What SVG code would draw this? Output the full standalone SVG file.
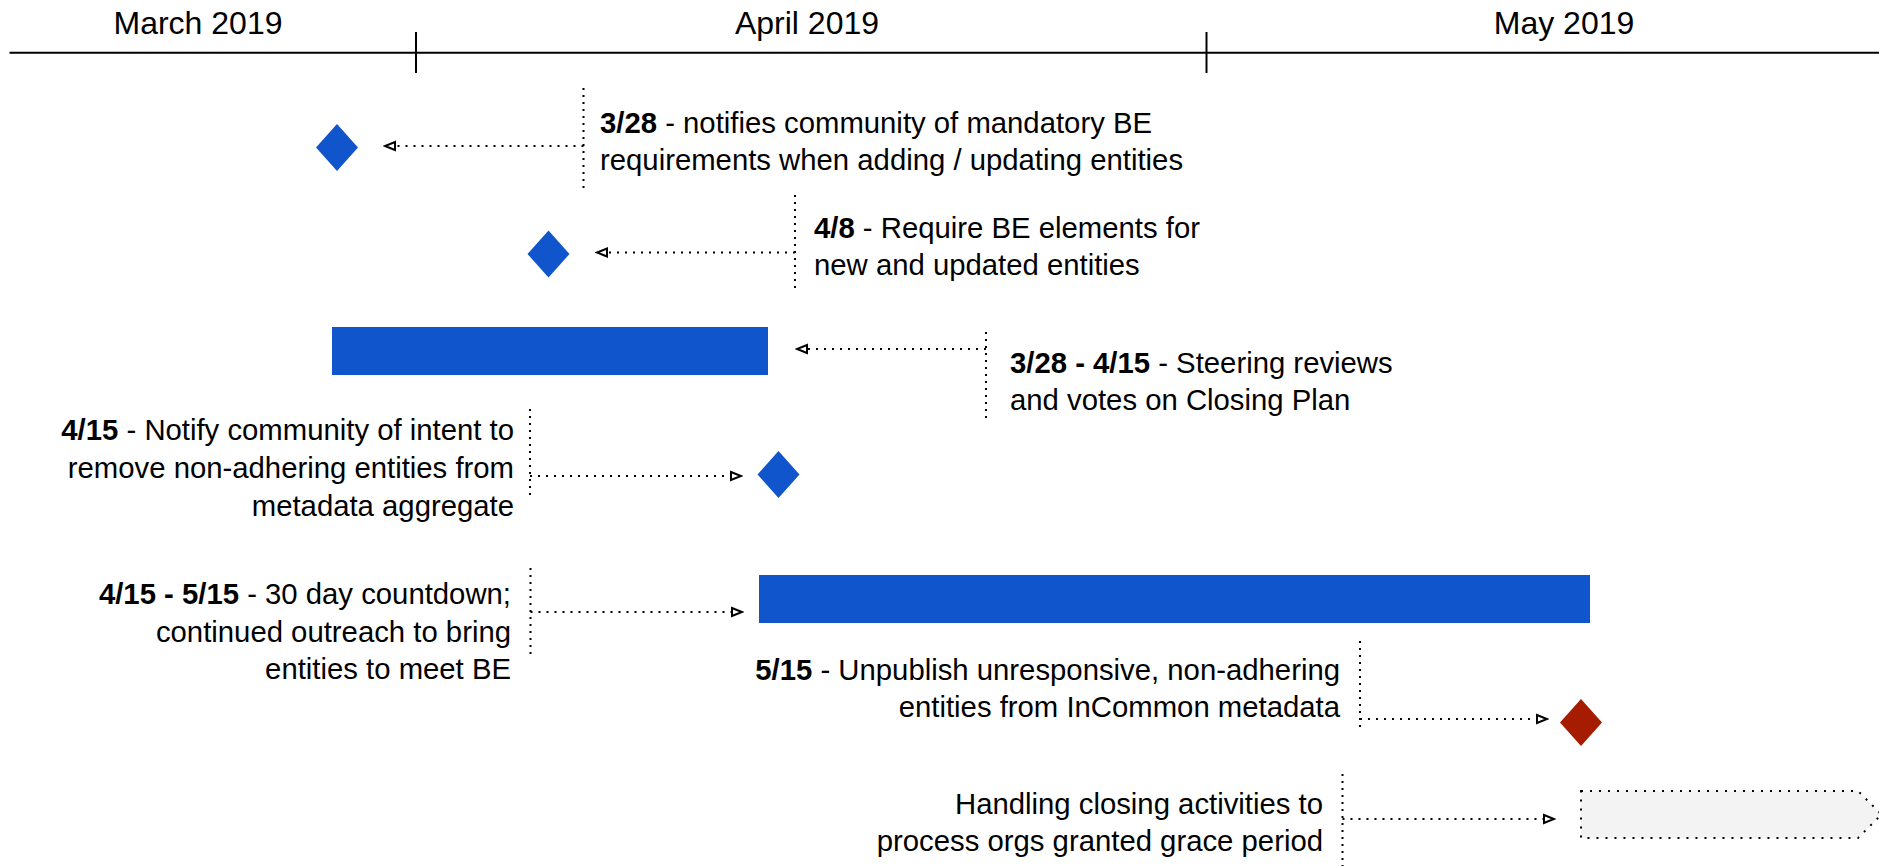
<svg xmlns="http://www.w3.org/2000/svg" width="1879" height="866" viewBox="0 0 1879 866">
<style>
text{font-family:"Liberation Sans",Arial,sans-serif;font-size:29.3px;fill:#000}
.h{font-size:32px}
.b{font-weight:bold}
.end{text-anchor:end}
.mid{text-anchor:middle}
.axis{stroke:#000;stroke-width:2;fill:none}
.blue{fill:#1155CC}
.red{fill:#A61C00}
.stem{stroke:#000;stroke-width:2;stroke-dasharray:2 5;fill:none}
.arr{stroke:#000;stroke-width:2;stroke-dasharray:2 6;fill:none;marker-end:url(#open)}
.grey{fill:#F3F3F3;stroke:#000;stroke-width:2;stroke-dasharray:2 7}
</style>
<defs>
<marker id="open" markerUnits="userSpaceOnUse" markerWidth="14" markerHeight="12" refX="12" refY="6" orient="auto">
<path d="M2,2 L12,6 L2,10 Z" fill="#fff" stroke="#000" stroke-width="2" stroke-dasharray="none"/>
</marker>
</defs>
<g id="timeline">
<line class="axis" x1="9.5" y1="52.7" x2="1879" y2="52.7"/>
<line class="axis" x1="416" y1="32" x2="416" y2="73"/>
<line class="axis" x1="1206.5" y1="32" x2="1206.5" y2="73"/>
<text class="mid h" x="198" y="34">March 2019</text>
<text class="mid h" x="807" y="34">April 2019</text>
<text class="mid h" x="1564" y="34">May 2019</text>
</g>
<g id="m1"><polygon class="blue" points="337,124 358,147.5 337,171 316,147.5"/></g>
<g id="m2"><polygon class="blue" points="548.5,230.5 569.5,254 548.5,277.5 527.5,254"/></g>
<g id="bar1"><rect class="blue" x="332" y="327" width="436" height="48"/></g>
<g id="m4"><polygon class="blue" points="778.5,451 799.5,474.5 778.5,498 757.5,474.5"/></g>
<g id="bar2"><rect class="blue" x="759" y="575" width="831" height="48"/></g>
<g id="m5"><polygon class="red" points="1581,699 1602,722.5 1581,746 1560,722.5"/></g>
<g id="grace"><path class="grey" d="M1581,791 L1858,791 L1881.5,814.5 L1858,838 L1581,838 Z"/></g>
<g id="t1"><text x="600" y="132.5"><tspan class="b">3/28</tspan> - notifies community of mandatory BE</text><text x="600" y="169.5">requirements when adding / updating entities</text></g>
<g id="t2"><text x="814" y="238"><tspan class="b">4/8</tspan> - Require BE elements for</text><text x="814" y="274.5">new and updated entities</text></g>
<g id="t3"><text x="1010" y="373"><tspan class="b">3/28 - 4/15</tspan> - Steering reviews</text><text x="1010" y="410">and votes on Closing Plan</text></g>
<g id="t4"><text class="end" x="514" y="440"><tspan class="b">4/15</tspan> - Notify community of intent to</text><text class="end" x="514" y="478">remove non-adhering entities from</text><text class="end" x="514" y="516">metadata aggregate</text></g>
<g id="t5"><text class="end" x="511" y="604"><tspan class="b">4/15 - 5/15</tspan> - 30 day countdown;</text><text class="end" x="511" y="641.5">continued outreach to bring</text><text class="end" x="511" y="679">entities to meet BE</text></g>
<g id="t6"><text class="end" x="1340" y="680"><tspan class="b">5/15</tspan> - Unpublish unresponsive, non-adhering</text><text class="end" x="1340" y="717">entities from InCommon metadata</text></g>
<g id="t7"><text class="end" x="1323" y="814">Handling closing activities to</text><text class="end" x="1323" y="851">process orgs granted grace period</text></g>
<g id="connectors">
<line class="stem" x1="583.5" y1="88" x2="583.5" y2="188"/>
<line class="arr" x1="583.5" y1="146" x2="385" y2="146"/>
<line class="stem" x1="795" y1="195" x2="795" y2="293"/>
<line class="arr" x1="795" y1="252.5" x2="597" y2="252.5"/>
<line class="stem" x1="986" y1="332" x2="986" y2="422"/>
<line class="arr" x1="986" y1="349" x2="797" y2="349"/>
<line class="stem" x1="530" y1="409" x2="530" y2="500"/>
<line class="arr" x1="530" y1="476" x2="741" y2="476"/>
<line class="stem" x1="530.5" y1="568" x2="530.5" y2="657"/>
<line class="arr" x1="530.5" y1="612" x2="742" y2="612"/>
<line class="stem" x1="1360" y1="641" x2="1360" y2="731"/>
<line class="arr" x1="1360" y1="719" x2="1547" y2="719"/>
<line class="stem" x1="1342.5" y1="774" x2="1342.5" y2="866"/>
<line class="arr" x1="1342.5" y1="819" x2="1554" y2="819"/>
</g>
</svg>
